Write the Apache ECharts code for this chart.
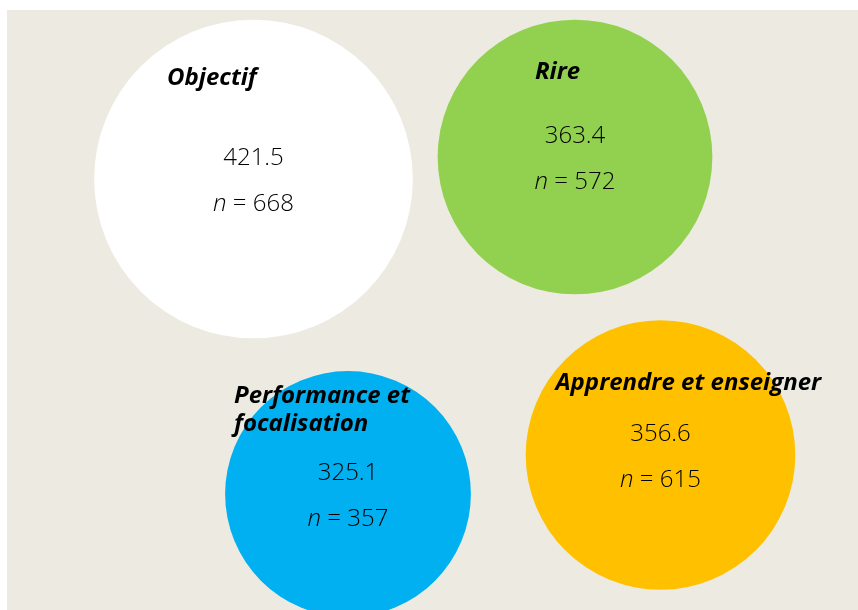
<!DOCTYPE html>
<html>
<head>
<meta charset="utf-8">
<script src="https://cdn.jsdelivr.net/npm/echarts@6/dist/echarts.min.js"></script>
<style>
html,body{margin:0;padding:0;background:#fff;}
#c{width:858px;height:610px;}
</style>
</head>
<body>
<div id="c"></div>
<script>
// ---- data ----
const categories = ['Objectif', 'Rire', 'Performance et\nfocalisation', 'Apprendre et enseigner'];
const scores = [421.5, 363.4, 325.1, 356.6];
const counts = [668, 572, 357, 615];

// ---- layout (bubble centres in plot units, title offsets in px) ----
const posX = [246.5, 568, 341, 653.5];
const posY = [169, 147, 484, 445];
const titleOffsets = [[-86.5, -101], [-40, -85], [-114, -83.5], [-105, -72]];
const colors = ['#FFFFFF', '#92D050', '#00B0F0', '#FFC000'];
const pxPerUnit = 0.756; // diameter in px per score unit

const FONT = '"Open Sans", "Noto Sans", sans-serif';

const bubbleData = categories.map((c, i) => ({
  name: c,
  value: [posX[i], posY[i], scores[i], counts[i]],
  symbolSize: scores[i] * pxPerUnit,
  itemStyle: { color: colors[i], opacity: 1 }
}));

const titleData = categories.map((c, i) => ({
  name: c,
  value: [posX[i], posY[i]],
  label: { position: titleOffsets[i] }
}));

const chart = echarts.init(document.getElementById('c'), null, { renderer: 'canvas' });
chart.setOption({
  animation: false,
  grid: { left: 7, top: 10, right: 0, bottom: 0, show: true, backgroundColor: '#EDEBE1', borderWidth: 0 },
  xAxis: { type: 'value', min: 0, max: 851, show: false },
  yAxis: { type: 'value', min: 0, max: 600, inverse: true, show: false },
  series: [
    {
      type: 'scatter',
      symbol: 'circle',
      data: bubbleData,
      clip: false,
      itemStyle: { opacity: 1 },
      emphasis: { disabled: true },
      label: {
        show: true,
        position: 'inside',
        offset: [0, 2],
        opacity: 1,
        formatter: p => '{v|' + p.value[2].toFixed(1) + '}\n{i|n}{t| = ' + p.value[3] + '}',
        rich: {
          v: { fontFamily: FONT, fontSize: 24, fontWeight: 300, color: '#000', lineHeight: 46 },
          i: { fontFamily: FONT, fontSize: 24, fontWeight: 300, fontStyle: 'italic', color: '#000', lineHeight: 46 },
          t: { fontFamily: FONT, fontSize: 24, fontWeight: 300, color: '#000', lineHeight: 46 }
        }
      }
    },
    {
      type: 'scatter',
      symbolSize: 0,
      data: titleData,
      clip: false,
      silent: true,
      itemStyle: { opacity: 1 },
      label: {
        show: true,
        formatter: p => p.name,
        align: 'left',
        verticalAlign: 'middle',
        fontFamily: FONT,
        fontSize: 24,
        fontWeight: 'bold',
        fontStyle: 'italic',
        color: '#000',
        opacity: 1,
        lineHeight: 28
      }
    }
  ]
});
</script>
</body>
</html>
